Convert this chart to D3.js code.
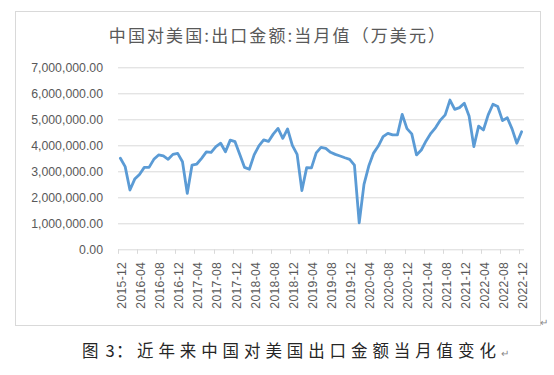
<!DOCTYPE html>
<html>
<head>
<meta charset="utf-8">
<script src="https://cdn.jsdelivr.net/npm/d3@7"></script>
<style>
  html, body { margin: 0; padding: 0; background: #ffffff; }
  svg { display: block; }
</style>
</head>
<body>
<svg id="chart" width="554" height="375"></svg>
<script>
// ---- Data ----
const titleText = "中国对美国:出口金额:当月值（万美元）";
const captionLeadParts = ["图", "3", "："];
const captionBody = "近年来中国对美国出口金额当月值变化";

const months = [
  "2015-12",
  "2016-01","2016-02","2016-03","2016-04","2016-05","2016-06","2016-07","2016-08","2016-09","2016-10","2016-11","2016-12",
  "2017-01","2017-02","2017-03","2017-04","2017-05","2017-06","2017-07","2017-08","2017-09","2017-10","2017-11","2017-12",
  "2018-01","2018-02","2018-03","2018-04","2018-05","2018-06","2018-07","2018-08","2018-09","2018-10","2018-11","2018-12",
  "2019-01","2019-02","2019-03","2019-04","2019-05","2019-06","2019-07","2019-08","2019-09","2019-10","2019-11","2019-12",
  "2020-01","2020-02","2020-03","2020-04","2020-05","2020-06","2020-07","2020-08","2020-09","2020-10","2020-11","2020-12",
  "2021-01","2021-02","2021-03","2021-04","2021-05","2021-06","2021-07","2021-08","2021-09","2021-10","2021-11","2021-12",
  "2022-01","2022-02","2022-03","2022-04","2022-05","2022-06","2022-07","2022-08","2022-09","2022-10","2022-11","2022-12"
];

// 出口金额 当月值（万美元）
const exportValues = [
  3500000,
  3180000, 2280000, 2700000, 2880000, 3150000, 3150000, 3460000, 3630000, 3590000, 3460000, 3650000, 3690000,
  3370000, 2150000, 3240000, 3280000, 3500000, 3750000, 3730000, 3950000, 4080000, 3750000, 4200000, 4140000,
  3650000, 3150000, 3080000, 3630000, 3980000, 4210000, 4150000, 4430000, 4650000, 4270000, 4630000, 4000000,
  3650000, 2260000, 3140000, 3130000, 3710000, 3920000, 3880000, 3730000, 3650000, 3590000, 3520000, 3460000,
  3240000, 1020000, 2500000, 3200000, 3700000, 3970000, 4330000, 4460000, 4400000, 4400000, 5190000, 4640000,
  4440000, 3630000, 3820000, 4170000, 4460000, 4680000, 4970000, 5170000, 5740000, 5380000, 5450000, 5620000,
  5130000, 3950000, 4740000, 4590000, 5170000, 5580000, 5490000, 4950000, 5060000, 4630000, 4080000, 4520000
];

const yTickValues = [0, 1000000, 2000000, 3000000, 4000000, 5000000, 6000000, 7000000];
const xLabelEvery = 4;

// ---- Drawing ----
const svg = d3.select("#chart");
const W = 554, H = 375;
const plot = { left: 118, right: 524, top: 67.3, bottom: 249.3 };
const gridColor = "#d9d9d9";
const textColor = "#595959";
const numFont = "'Liberation Sans', Arial, sans-serif";
const cjkFont = "'Noto Sans CJK SC', 'Noto Sans', sans-serif";

svg.append("rect").attr("x", 0).attr("y", 0).attr("width", W).attr("height", H).attr("fill", "#fff");

// chart frame
svg.append("rect")
  .attr("x", 15.5).attr("y", 11.5)
  .attr("width", 525).attr("height", 314)
  .attr("fill", "none").attr("stroke", gridColor).attr("stroke-width", 1);

const x = d3.scaleBand().domain(months).range([plot.left, plot.right]).padding(0);
const y = d3.scaleLinear().domain([0, 7000000]).range([plot.bottom, plot.top]);

// y axis with gridlines
const yAxis = d3.axisLeft(y)
  .tickValues(yTickValues)
  .tickFormat(d3.format(",.2f"))
  .tickSize(-(plot.right - plot.left))
  .tickPadding(15);

const gy = svg.append("g").attr("transform", `translate(${plot.left},0)`).call(yAxis);
gy.select(".domain").remove();
gy.selectAll(".tick line").attr("stroke", gridColor).attr("stroke-width", 1);
gy.selectAll(".tick text")
  .attr("fill", textColor)
  .attr("font-family", numFont)
  .attr("font-size", "12.3px");

// x axis: labels at category centres
const labelMonths = months.filter((m, i) => i % xLabelEvery === 0);
const xAxis = d3.axisBottom(x).tickValues(labelMonths).tickSize(0).tickPadding(0);
const gx = svg.append("g").attr("transform", `translate(0,${plot.bottom})`).call(xAxis);
gx.select(".domain").remove();
gx.selectAll(".tick text")
  .attr("fill", textColor)
  .attr("font-family", numFont)
  .attr("font-size", "12.2px")
  .attr("letter-spacing", "0.3px")
  .attr("text-anchor", "end")
  .attr("dy", null)
  .attr("dominant-baseline", "central")
  .attr("transform", "translate(1.5,12.5) rotate(-90)")
  .attr("x", 0).attr("y", 0);

// tick marks at category boundaries
svg.append("g").selectAll("line")
  .data(labelMonths)
  .join("line")
  .attr("x1", d => Math.round(x(d)) + 0.5)
  .attr("x2", d => Math.round(x(d)) + 0.5)
  .attr("y1", plot.bottom)
  .attr("y2", plot.bottom + 4.5)
  .attr("stroke", gridColor)
  .attr("stroke-width", 1);

// line series
const line = d3.line()
  .x((d, i) => x(months[i]) + x.bandwidth() / 2)
  .y(d => y(d));

svg.append("path")
  .datum(exportValues)
  .attr("d", line)
  .attr("fill", "none")
  .attr("stroke", "#5B9BD5")
  .attr("stroke-width", 2.8)
  .attr("stroke-linejoin", "round")
  .attr("stroke-linecap", "round");

// title
svg.append("text")
  .attr("x", 278).attr("y", 42)
  .attr("text-anchor", "middle")
  .attr("font-family", cjkFont)
  .attr("font-size", "17px")
  .attr("letter-spacing", "2.1px")
  .attr("fill", textColor)
  .text(titleText);

// paragraph mark at top-right of frame
svg.append("text")
  .attr("x", 540).attr("y", 326)
  .attr("font-family", cjkFont)
  .attr("font-size", "10px")
  .attr("fill", "#888")
  .text("↵");

// caption lead: 图 3：
const leadX = [82, 105.5, 116];
const lead = svg.append("g")
  .attr("font-family", cjkFont)
  .attr("font-size", "16.5px")
  .attr("fill", "#262626");
lead.selectAll("text")
  .data(captionLeadParts)
  .join("text")
  .attr("x", (d, i) => leadX[i])
  .attr("y", 357)
  .text(d => d);

const cap = svg.append("text")
  .attr("x", 137).attr("y", 357)
  .attr("font-family", cjkFont)
  .attr("font-size", "16.5px")
  .attr("letter-spacing", "4.9px")
  .attr("fill", "#262626")
  .text(captionBody);

cap.append("tspan")
  .attr("font-size", "10px")
  .attr("letter-spacing", "0px")
  .attr("fill", "#888")
  .text("↵");
</script>
</body>
</html>
